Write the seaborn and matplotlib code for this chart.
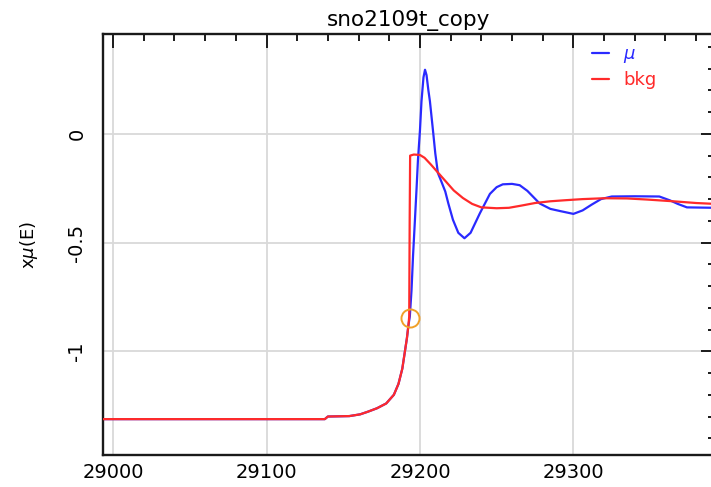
import matplotlib
matplotlib.use("Agg")
from matplotlib import pyplot as plt
from matplotlib.ticker import MultipleLocator
import pandas as pd
import seaborn as sns

# bkg curve (red)
bkg_energy = [28993, 29138, 29140, 29154, 29161, 29166, 29172, 29178, 29183, 29186,
              29188.5, 29190, 29191.5, 29192.5, 29193, 29193.3, 29193.6, 29196, 29200,
              29203, 29207, 29212, 29217, 29222, 29228, 29234, 29240, 29250, 29258,
              29266, 29275, 29285, 29295, 29306, 29320, 29335, 29348, 29365, 29380, 29392]
bkg_value = [-1.312, -1.312, -1.300, -1.298, -1.290, -1.278, -1.262, -1.240, -1.200, -1.150,
             -1.080, -1.010, -0.940, -0.880, -0.840, -0.400, -0.100, -0.095, -0.097,
             -0.110, -0.140, -0.180, -0.220, -0.260, -0.295, -0.322, -0.338, -0.342, -0.340,
             -0.330, -0.318, -0.310, -0.305, -0.300, -0.296, -0.297, -0.302, -0.310, -0.318, -0.322]

# mu curve (blue)
mu_energy = [28993, 29138, 29140, 29154, 29161, 29166, 29172, 29178, 29183, 29186,
             29188.5, 29190, 29191.5, 29192.5, 29193.4, 29194.5, 29195.5, 29196.7, 29197.8,
             29198.7, 29200, 29201, 29202.3, 29203.3, 29204.3, 29205.5, 29206.5, 29208.5,
             29210, 29211.7, 29214, 29216.5, 29218.5, 29221.5, 29225, 29229, 29233, 29239, 29245.6,
             29250, 29254, 29260, 29265, 29270, 29278, 29285, 29292, 29300, 29306, 29312,
             29318, 29325, 29340, 29356, 29363, 29368, 29374, 29392]
mu_value = [-1.312, -1.312, -1.300, -1.298, -1.290, -1.278, -1.262, -1.240, -1.200, -1.150,
            -1.080, -1.010, -0.940, -0.880, -0.840, -0.720, -0.560, -0.400, -0.250,
            -0.120, 0.015, 0.150, 0.260, 0.295, 0.270, 0.200, 0.150, 0.015,
            -0.090, -0.180, -0.220, -0.265, -0.320, -0.395, -0.455, -0.480, -0.455, -0.366, -0.276,
            -0.245, -0.232, -0.230, -0.236, -0.262, -0.320, -0.345, -0.356, -0.368, -0.352, -0.325,
            -0.300, -0.288, -0.287, -0.288, -0.306, -0.322, -0.338, -0.340]

# E0 marker
e0_energy = [29193.3]
e0_value = [-0.845]

mu_df = pd.DataFrame({'energy': mu_energy, 'value': mu_value})
bkg_df = pd.DataFrame({'energy': bkg_energy, 'value': bkg_value})

sns.set_style('white')
plt.rcParams['font.family'] = ['DejaVu Sans']
plt.rcParams['text.color'] = 'black'
plt.rcParams['axes.labelcolor'] = 'black'
plt.rcParams['xtick.labelcolor'] = 'black'
plt.rcParams['ytick.labelcolor'] = 'black'

fig = plt.figure(figsize=(7.11, 4.87), dpi=100)
ax = fig.add_axes([0.145, 0.0657, 0.86, 0.8643])

sns.lineplot(data=mu_df, x='energy', y='value', color='#2a2aff', linewidth=1.6,
             sort=False, estimator=None, label=r'$\mu$', ax=ax, zorder=2)
sns.lineplot(data=bkg_df, x='energy', y='value', color='#ff2a2a', linewidth=1.6,
             sort=False, estimator=None, label='bkg', ax=ax, zorder=3)
ax.plot(e0_energy, e0_value, marker='o', markersize=13, markerfacecolor='none',
        markeredgecolor='#f0a028', markeredgewidth=1.4, linestyle='none', zorder=4)

ax.set_xlim(28993.5, 29392)
ax.set_ylim(-1.477, 0.459)
ax.xaxis.set_major_locator(MultipleLocator(100))
ax.xaxis.set_minor_locator(MultipleLocator(20))
ax.yaxis.set_major_locator(MultipleLocator(0.5))
ax.yaxis.set_minor_locator(MultipleLocator(0.1))
ax.set_yticks([0, -0.5, -1])
ax.set_yticklabels(['0', '-0.5', '-1'])

ax.grid(True, which='major', color='#d9d9d9', linewidth=1.3)
ax.set_axisbelow(True)
for sp in ax.spines.values():
    sp.set_color('#1a1a1a')
    sp.set_linewidth(1.7)

ax.tick_params(which='both', direction='in', top=True, right=True, color='#1a1a1a', width=1.4)
ax.tick_params(which='major', length=10)
ax.tick_params(which='minor', length=5)
ax.tick_params(axis='x', labelsize=14, pad=6)
ax.tick_params(axis='y', labelsize=14, pad=12, labelrotation=90)
for lab in ax.get_yticklabels():
    lab.set_va('center')

ax.set_xlabel('')
ax.set_ylabel(r'x$\mu$(E)', fontsize=13, labelpad=20)
ax.set_title('sno2109t_copy', fontsize=15.5, pad=6)

leg = ax.legend(loc='upper left', bbox_to_anchor=(0.80, 0.973), frameon=False,
                fontsize=13, handlelength=0.9, handletextpad=0.8,
                labelspacing=0.3, borderpad=0, borderaxespad=0, labelcolor='linecolor')

fig.savefig('out.png', dpi=100)
